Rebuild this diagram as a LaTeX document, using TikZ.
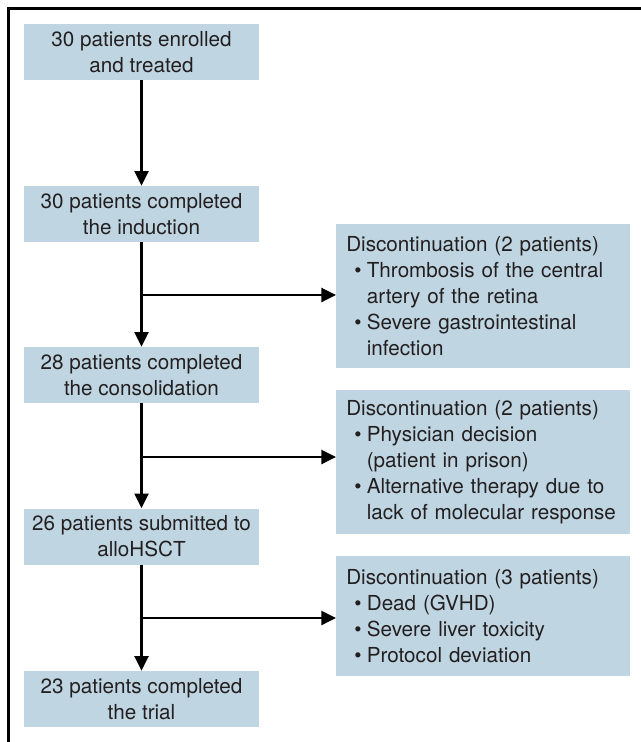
\documentclass[tikz,border=0pt]{standalone}
\usepackage{fontspec}
\setmainfont{TeX Gyre Heros}
\usetikzlibrary{arrows.meta}
\definecolor{boxblue}{HTML}{BFD5E1}
\definecolor{txtgray}{HTML}{231F20}
\newcommand{\blt}{\hspace*{6pt}\textbullet\hspace{4pt}}
\newcommand{\bind}{\hspace*{6pt}\phantom{\textbullet}\hspace*{4pt}}

\begin{document}
\begin{tikzpicture}[x=0.75pt,y=-0.75pt,
		stage/.style={fill=boxblue, text=txtgray, align=center, minimum width=176.25pt, minimum height=42pt, inner sep=0pt, font=\fontsize{15.5}{19.5}\selectfont},
		drop/.style={fill=boxblue, text=txtgray, align=left, text width=205.5pt, inner xsep=7.5pt, inner ysep=0pt, anchor=north west, font=\fontsize{15.5}{19.5}\selectfont},
		flow/.style={line width=1.8pt, -{Triangle[length=11pt,width=10.5pt]}}]
			\useasboundingbox (0,0) rectangle (641,742);
			% outer frame, open at right and bottom
			\draw [line width=2pt] (645,8.3) -- (8.3,8.3) -- (8.3,750);
			% main stages
			\node [stage] (enrol) at (141.5,52) {30 patients enrolled\\and treated};
			\node [stage] (induct) at (141.5,214) {30 patients completed\\the induction};
			\node [stage] (consol) at (141.5,375) {28 patients completed\\the consolidation};
			\node [stage] (hsct) at (141.5,536.5) {26 patients submitted to\\alloHSCT};
			\node [stage] (trial) at (141.5,699) {23 patients completed\\the trial};
			% discontinuations
			\node [drop, minimum height=108pt] (stop1) at (336,224) {Discontinuation (2 patients)\\
				\blt Thrombosis of the central\\ \bind artery of the retina\\
				\blt Severe gastrointestinal\\ \bind infection};
			\node [drop, minimum height=108pt] (stop2) at (336,390) {Discontinuation (2 patients)\\
				\blt Physician decision\\ \bind (patient in prison)\\
				\blt Alternative therapy due to\\ \bind lack of molecular response};
			\node [drop, minimum height=90pt] (stop3) at (336,556) {Discontinuation (3 patients)\\
				\blt Dead (GVHD)\\
				\blt Severe liver toxicity\\
				\blt Protocol deviation};
			% branch points
			\coordinate (fork1) at (141.5,295);
			\coordinate (fork2) at (141.5,457);
			\coordinate (fork3) at (141.5,618);
			\draw [flow] (enrol) -- (induct);
			\draw [flow] (induct) -- (consol);
			\draw [flow] (consol) -- (hsct);
			\draw [flow] (hsct) -- (trial);
			\draw [flow] (fork1) -- (fork1 -| stop1.west);
			\draw [flow] (fork2) -- (fork2 -| stop2.west);
			\draw [flow] (fork3) -- (fork3 -| stop3.west);
		\end{tikzpicture}
\end{document}
